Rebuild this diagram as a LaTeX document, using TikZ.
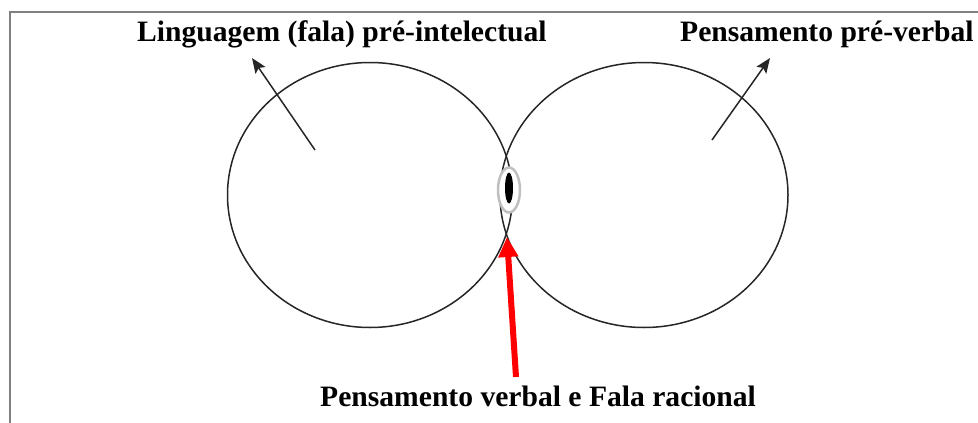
\documentclass[tikz,border=0pt]{standalone}
\usepackage{fontspec}
\setmainfont{Liberation Serif}
\usetikzlibrary{shapes.geometric,arrows.meta}
\begin{document}
\begin{tikzpicture}[x=1pt,y=-1pt,
  lbl/.style={font=\fontsize{29.6}{33}\selectfont\bfseries, inner sep=0pt, anchor=base west},
  ring/.style={ellipse, draw=black!85, line width=1.5pt, inner sep=0pt},
  blackarrow/.style={draw=black!85, line width=1.5pt, -{Stealth[length=15pt,width=12pt,inset=3pt]}},
  redarrow/.style={draw=red, line width=6pt, -{Triangle[length=20pt,width=19pt]}},
  frame/.style={draw=black!50, line width=2pt}]
\useasboundingbox (0,0) rectangle (978,423);
\coordinate (ftop) at (978,12);
\coordinate (fcorner) at (10,12);
\coordinate (fbot) at (10,423);
\draw[frame] (ftop) -- (fcorner) -- (fbot);
\node[ring, minimum width=285pt, minimum height=265pt] (L) at (370,195) {};
\node[ring, minimum width=288pt, minimum height=265pt] (R) at (644,195) {};
\node[ellipse, fill=white, draw=black!25, line width=2.5pt, minimum width=22pt, minimum height=45pt, inner sep=0pt] (oval) at (509,190) {};
\node[ellipse, fill=black, minimum width=8pt, minimum height=31pt, inner sep=0pt] (eye) at (509,188) {};
\node[lbl] (tl) at (137,41) {Linguagem (fala) pré-intelectual};
\node[lbl] (tr) at (680,41) {Pensamento pré-verbal};
\node[lbl] (bl) at (320,406) {Pensamento verbal e Fala racional};
\coordinate (la) at (315,150);
\coordinate (lt) at (252,58);
\coordinate (ra) at (712,140);
\coordinate (rt) at (770,58);
\coordinate (rs) at (516,377);
\coordinate (rtip) at (507,237);
\draw[blackarrow] (la) -- (lt);
\draw[blackarrow] (ra) -- (rt);
\draw[redarrow] (rs) -- (rtip);
\end{tikzpicture}
\end{document}
